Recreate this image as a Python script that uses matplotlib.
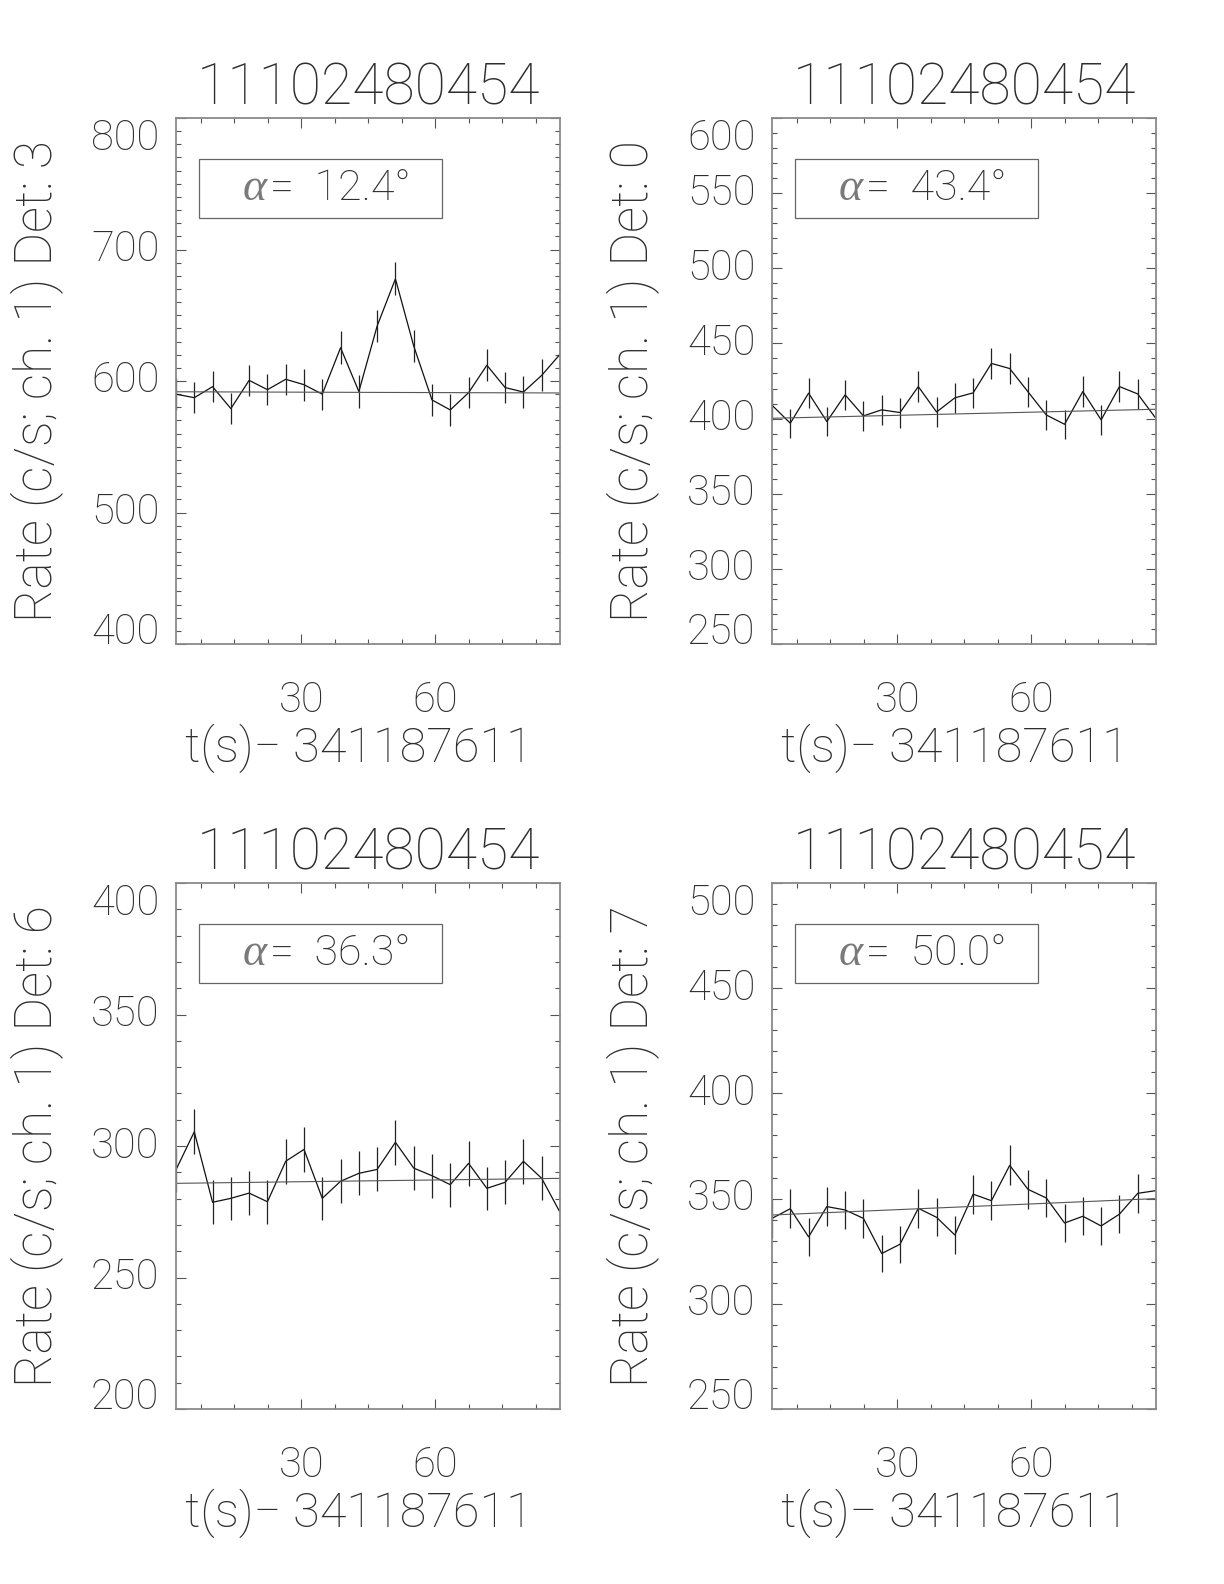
import numpy as np
import matplotlib
matplotlib.use("Agg")
import matplotlib.pyplot as plt
from matplotlib.ticker import FixedLocator, MultipleLocator
from matplotlib.patches import Rectangle

plt.rcParams['font.family'] = ['Roboto', 'DejaVu Sans']
plt.rcParams['font.weight'] = 'light'
plt.rcParams['axes.titleweight'] = 'light'
plt.rcParams['axes.labelweight'] = 'light'

# time bins (s after 341187611)
t0 = 1.9
dt = 4.096
nbins = 22
obs_id = "11102480454"
t_ref = "341187611"

# per-panel data
dets = [3, 0, 6, 7]
alphas = ["12.4", "43.4", "36.3", "50.0"]
ylims = [(400, 800), (250, 600), (200, 400), (250, 500)]
ymajor = [100, 50, 50, 50]

rate_det3 = [590.0, 587.3, 595.7, 579.0, 600.5, 593.4, 601.3, 597.2, 590.0, 625.3, 592.0,
             641.8, 677.7, 626.6, 585.6, 578.0, 591.1, 612.0, 595.0, 591.6, 604.3, 620.3]
err_det3 = [12.1, 11.9, 12.0, 12.0, 12.0, 12.0, 12.0, 12.2, 11.8, 12.4, 12.2,
            12.4, 12.5, 12.4, 11.9, 12.2, 12.0, 12.3, 12.0, 12.0, 12.1, 12.3]
fit_det3 = (591.8, 590.9)

rate_det0 = [408.9, 396.9, 416.9, 398.0, 415.8, 401.8, 405.8, 404.0, 421.3, 404.4, 413.8,
             417.1, 436.7, 433.3, 417.8, 402.4, 396.2, 418.0, 399.1, 421.3, 416.4, 400.0]
err_det0 = [10.0, 9.8, 10.1, 9.9, 10.1, 9.9, 10.0, 10.0, 10.2, 10.0, 10.1,
            10.1, 10.3, 10.3, 10.1, 9.9, 9.8, 10.1, 9.9, 10.2, 10.1, 9.9]
fit_det0 = (400.2, 406.2)

rate_det6 = [291.0, 305.4, 278.6, 280.1, 282.1, 278.8, 294.2, 298.7, 280.1, 286.6, 289.6,
             291.1, 301.4, 291.6, 288.7, 285.3, 293.4, 283.9, 286.2, 294.2, 287.7, 274.8]
err_det6 = [8.4, 8.6, 8.3, 8.3, 8.3, 8.3, 8.5, 8.5, 8.3, 8.4, 8.4,
            8.4, 8.6, 8.4, 8.4, 8.4, 8.5, 8.3, 8.4, 8.5, 8.4, 8.2]
fit_det6 = (285.8, 287.7)

rate_det7 = [340.6, 345.2, 331.8, 346.2, 344.6, 340.6, 323.9, 328.3, 345.4, 341.1, 332.7,
             352.1, 349.0, 365.8, 354.4, 350.3, 338.4, 341.6, 337.0, 342.6, 352.5, 353.8]
err_det7 = [9.1, 9.2, 9.0, 9.2, 9.2, 9.1, 8.9, 8.9, 9.2, 9.1, 9.0,
            9.3, 9.2, 9.5, 9.3, 9.2, 9.1, 9.1, 9.1, 9.1, 9.3, 9.3]
fit_det7 = (342.2, 350.0)

rates = [rate_det3, rate_det0, rate_det6, rate_det7]
errs = [err_det3, err_det0, err_det6, err_det7]
fits = [fit_det3, fit_det0, fit_det6, fit_det7]

t = t0 + dt * np.arange(nbins)

W, H = 1224, 1584
fig = plt.figure(figsize=(W / 100, H / 100), dpi=100)

# axes boxes in pixels: left, bottom(from top)
boxes = [(176, 644), (772, 644), (176, 1409), (772, 1409)]
aw, ah = 384, 526

txt_col = '#2e2e2e'
spine_col = '#8a8a8a'

for i in range(4):
    left, bot = boxes[i]
    ax = fig.add_axes([left / W, 1 - bot / H, aw / W, ah / H])

    y = np.array(rates[i])
    e = np.array(errs[i])
    ax.plot(t, y, color='#111111', lw=0.9)
    ax.vlines(t, y - e, y + e, color='#222222', lw=0.9)
    ax.plot([t[0], t[-1]], fits[i], color='#555555', lw=0.8)

    lo, hi = ylims[i]
    ax.set_xlim(t[0], t[-1])
    ax.set_ylim(lo, hi)
    ax.xaxis.set_major_locator(MultipleLocator(30))
    ax.xaxis.set_minor_locator(MultipleLocator(7.5))
    ax.yaxis.set_major_locator(FixedLocator(np.arange(lo, hi + 1, ymajor[i])))
    ax.yaxis.set_minor_locator(MultipleLocator(10))
    ax.tick_params(which='both', direction='in', top=True, right=True,
                   colors='#555555', labelcolor=txt_col, labelsize=30)
    ax.tick_params(which='major', length=7, width=0.8)
    ax.tick_params(which='minor', length=3.5, width=0.8)
    ax.tick_params(axis='x', which='major', pad=26)
    ax.tick_params(axis='y', which='major', pad=12)
    yt = ax.yaxis.get_major_ticks()
    yt[0].label1.set_va('baseline')
    yt[-1].label1.set_va('top')
    for tk in yt[1:-1]:
        tk.label1.set_va('center')
    for sp in ax.spines.values():
        sp.set_color(spine_col)
        sp.set_linewidth(1.3)

    ax.set_title(obs_id, fontsize=41, color=txt_col, pad=10)
    ax.set_xlabel("t(s)\u2212 " + t_ref, fontsize=35, color=txt_col)
    ax.xaxis.set_label_coords(0.475, -0.152)
    ax.set_ylabel("Rate (c/s; ch. 1) Det: %d" % dets[i], fontsize=37, color=txt_col)
    ax.yaxis.label.set_va('center')
    ax.yaxis.set_label_coords(-0.36, 0.5)

    ax.add_patch(Rectangle((0.06, 0.81), 0.633, 0.112, transform=ax.transAxes,
                           fill=False, edgecolor='#666666', lw=0.9))
    ax.text(0.236, 0.866, "\u03b1", transform=ax.transAxes, family='Liberation Serif',
            style='italic', weight='normal', fontsize=33, color='#7a7a7a',
            ha='right', va='center')
    ax.text(0.245, 0.866, "=  " + alphas[i] + "\u00b0", transform=ax.transAxes,
            fontsize=31, color=txt_col, ha='left', va='center')

fig.savefig("out.png", dpi=100)
